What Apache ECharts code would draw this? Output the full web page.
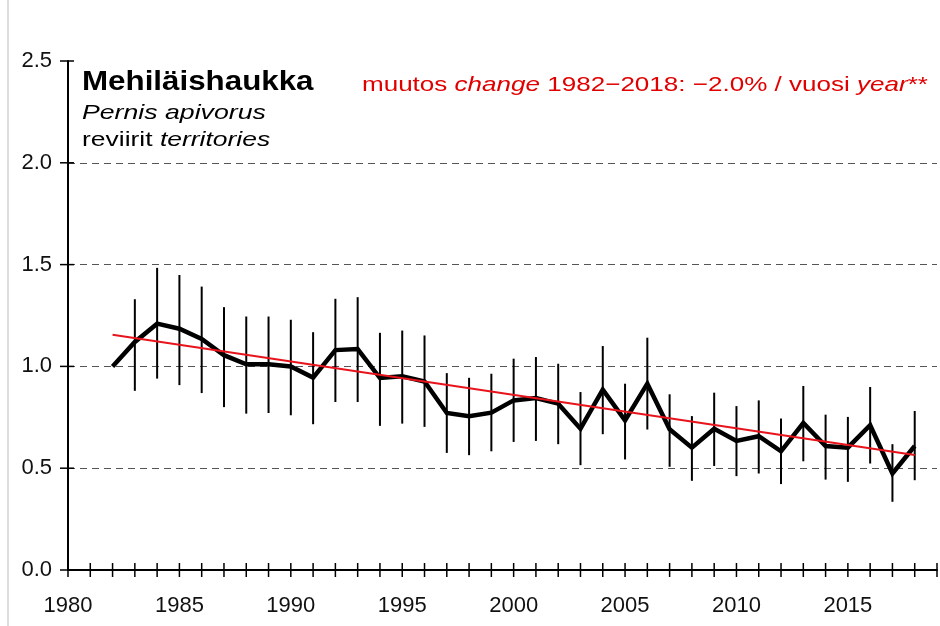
<!DOCTYPE html>
<html>
<head>
<meta charset="utf-8">
<script src="https://cdn.jsdelivr.net/npm/echarts@6/dist/echarts.min.js"></script>
<style>
  html, body { margin: 0; padding: 0; background: #fff; }
  #chart { width: 940px; height: 626px; }
</style>
</head>
<body>
<div id="chart"></div>
<script>
// indeksi, 1982 = 1.0
const years = [1982, 1983, 1984, 1985, 1986, 1987, 1988, 1989, 1990, 1991,
  1992, 1993, 1994, 1995, 1996, 1997, 1998, 1999, 2000, 2001,
  2002, 2003, 2004, 2005, 2006, 2007, 2008, 2009, 2010, 2011,
  2012, 2013, 2014, 2015, 2016, 2017, 2018];
const index = [1.00, 1.12, 1.21, 1.185, 1.135, 1.055, 1.01, 1.01, 1.00, 0.945,
  1.08, 1.085, 0.943, 0.951, 0.926, 0.771, 0.755, 0.773, 0.833, 0.845,
  0.817, 0.694, 0.886, 0.735, 0.915, 0.691, 0.601, 0.694, 0.634, 0.657,
  0.583, 0.722, 0.609, 0.601, 0.711, 0.474, 0.609];
const upper = [null, 1.33, 1.484, 1.449, 1.392, 1.291, 1.245, 1.245, 1.229, 1.168,
  1.332, 1.34, 1.165, 1.176, 1.152, 0.967, 0.944, 0.964, 1.038, 1.046,
  1.013, 0.874, 1.10, 0.915, 1.141, 0.863, 0.756, 0.871, 0.805, 0.833,
  0.744, 0.904, 0.763, 0.752, 0.899, 0.618, 0.781];
const lower = [null, 0.88, 0.94, 0.908, 0.869, 0.80, 0.768, 0.771, 0.76, 0.716,
  0.825, 0.825, 0.708, 0.719, 0.703, 0.575, 0.564, 0.583, 0.629, 0.634,
  0.618, 0.515, 0.667, 0.543, 0.69, 0.507, 0.438, 0.511, 0.461, 0.474,
  0.422, 0.534, 0.444, 0.433, 0.523, 0.335, 0.441];
// trendiviiva 1982-2018
const trendYears = [1982, 2018];
const trendValues = [1.155, 0.565];
// akselien tikit (ristikkäiset)
const xTicks = [1980, 1981, 1982, 1983, 1984, 1985, 1986, 1987, 1988, 1989,
  1990, 1991, 1992, 1993, 1994, 1995, 1996, 1997, 1998, 1999,
  2000, 2001, 2002, 2003, 2004, 2005, 2006, 2007, 2008, 2009,
  2010, 2011, 2012, 2013, 2014, 2015, 2016, 2017, 2018, 2019];
const yTicks = [0, 0.5, 1.0, 1.5, 2.0, 2.5];

const font = '"Liberation Sans", Arial, sans-serif';

const chart = echarts.init(document.getElementById('chart'));

const errData = years
  .map((y, i) => [y, lower[i], upper[i]])
  .filter(d => d[1] != null);

const option = {
  animation: false,
  textStyle: { fontFamily: font },
  grid: { left: 68, right: 0, top: 61, bottom: 56 },
  xAxis: {
    type: 'value',
    min: 1980,
    max: 2019,
    interval: 1,
    splitLine: { show: false },
    axisLine: { lineStyle: { color: '#000', width: 2 } },
    axisTick: { show: false },
    axisLabel: {
      color: '#111',
      fontSize: 22,
      fontFamily: font,
      margin: 25,
      formatter: v => (v % 5 === 0 && v < 2019 ? String(v) : '')
    }
  },
  yAxis: {
    type: 'value',
    min: 0,
    max: 2.5,
    interval: 0.5,
    axisLine: { show: true, lineStyle: { color: '#000', width: 2 } },
    axisTick: { show: false },
    axisLabel: {
      color: '#111',
      fontSize: 22,
      fontFamily: font,
      margin: 16,
      formatter: v => v.toFixed(1)
    },
    splitLine: {
      show: true,
      showMinLine: false,
      showMaxLine: false,
      lineStyle: { color: '#555', type: [7, 5], width: 1.2 }
    }
  },
  graphic: [
    {
      type: 'line',
      shape: { x1: 8, y1: 0, x2: 8, y2: 626 },
      style: { stroke: '#bbb', lineWidth: 1 }
    },
    {
      type: 'text', x: 82, y: 83, scaleX: 1.16,
      style: {
        text: 'Mehiläishaukka', font: 'bold 27px ' + font, fill: '#000',
        verticalAlign: 'middle'
      }
    },
    {
      type: 'text', x: 82, y: 113, scaleX: 1.27,
      style: {
        text: 'Pernis apivorus', font: 'italic 21px ' + font, fill: '#000',
        verticalAlign: 'middle'
      }
    },
    {
      type: 'text', x: 82, y: 140, scaleX: 1.26,
      style: {
        text: '{n|reviirit }{i|territories}',
        verticalAlign: 'middle',
        rich: {
          n: { font: '21px ' + font, fill: '#000' },
          i: { font: 'italic 21px ' + font, fill: '#000' }
        }
      }
    },
    {
      type: 'text', x: 928, y: 85, scaleX: 1.24,
      style: {
        text: '{n|muutos }{i|change}{n| 1982\u22122018: \u22122.0% / vuosi }{i|year}{n|**}',
        align: 'right',
        verticalAlign: 'middle',
        rich: {
          n: { font: '21px ' + font, fill: '#e00000' },
          i: { font: 'italic 21px ' + font, fill: '#e00000' }
        }
      }
    }
  ],
  series: [
    {
      name: 'x-tikit',
      type: 'custom',
      clip: false,
      silent: true,
      z: 5,
      data: xTicks.map(t => [t, 0]),
      renderItem: (params, api) => {
        const p = api.coord([api.value(0), 0]);
        return {
          type: 'line',
          shape: { x1: p[0], y1: p[1] - 7, x2: p[0], y2: p[1] + 7 },
          style: { stroke: '#000', lineWidth: 1.5 }
        };
      }
    },
    {
      name: 'y-tikit',
      type: 'custom',
      clip: false,
      silent: true,
      z: 5,
      data: yTicks.map(t => [1980, t]),
      renderItem: (params, api) => {
        const p = api.coord([1980, api.value(1)]);
        return {
          type: 'line',
          shape: { x1: p[0] - 8, y1: p[1], x2: p[0] + 6, y2: p[1] },
          style: { stroke: '#000', lineWidth: 1.5 }
        };
      }
    },
    {
      name: 'luottamusväli',
      type: 'custom',
      z: 2,
      data: errData,
      encode: { x: 0, y: [1, 2] },
      renderItem: (params, api) => {
        const lo = api.coord([api.value(0), api.value(1)]);
        const hi = api.coord([api.value(0), api.value(2)]);
        return {
          type: 'line',
          shape: { x1: lo[0], y1: lo[1], x2: hi[0], y2: hi[1] },
          style: { stroke: '#000', lineWidth: 2 }
        };
      }
    },
    {
      name: 'indeksi',
      type: 'line',
      z: 3,
      symbol: 'none',
      lineStyle: { color: '#000', width: 4.5, join: 'miter' },
      data: years.map((y, i) => [y, index[i]])
    },
    {
      name: 'trendi',
      type: 'line',
      z: 4,
      symbol: 'none',
      lineStyle: { color: '#e8141b', width: 2 },
      data: trendYears.map((y, i) => [y, trendValues[i]])
    }
  ]
};

chart.setOption(option);
</script>
</body>
</html>
